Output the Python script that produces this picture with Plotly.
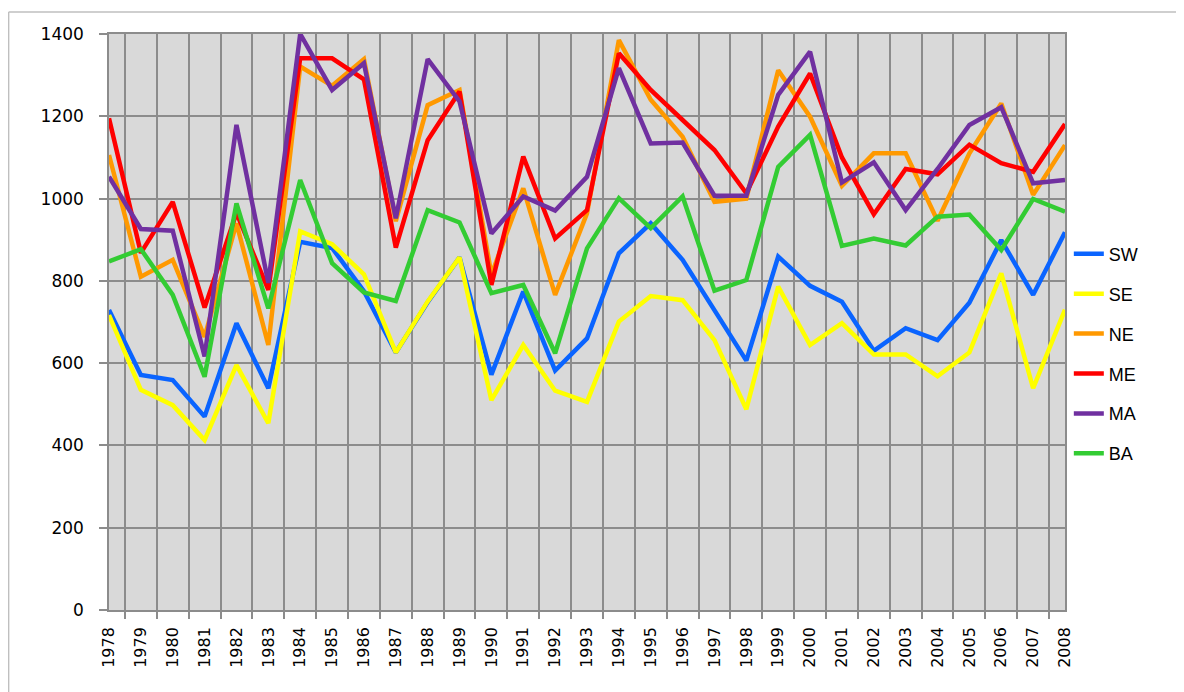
import plotly.graph_objects as go

years = [str(y) for y in range(1978, 2009)]

SW = [729, 571, 559, 470, 697, 539, 895, 880, 775, 626, 748, 857, 572, 774, 582, 660,
      867, 940, 851, 729, 606, 859, 788, 749, 630, 685, 656, 747, 899, 766, 918]
SE = [717, 535, 498, 413, 595, 454, 920, 889, 816, 626, 750, 857, 510, 644, 533, 506,
      701, 763, 753, 656, 488, 786, 644, 697, 621, 621, 568, 626, 818, 539, 730]
NE = [1106, 810, 851, 664, 940, 644, 1321, 1274, 1339, 945, 1227, 1264, 815, 1025, 766, 964,
      1385, 1240, 1150, 992, 1000, 1312, 1199, 1031, 1110, 1110, 946, 1110, 1231, 1009, 1130]
ME = [1195, 868, 992, 735, 965, 778, 1341, 1341, 1290, 881, 1142, 1260, 790, 1102, 903, 972,
      1353, 1264, 1191, 1118, 1013, 1175, 1304, 1100, 962, 1072, 1059, 1131, 1086, 1065, 1181]
MA = [1053, 926, 922, 616, 1179, 795, 1400, 1264, 1329, 952, 1339, 1236, 915, 1005, 971, 1053,
      1317, 1134, 1136, 1007, 1007, 1252, 1357, 1039, 1088, 972, 1072, 1179, 1222, 1037, 1045]
BA = [847, 877, 766, 567, 988, 733, 1045, 843, 772, 751, 972, 942, 770, 790, 624, 879,
      1001, 928, 1005, 776, 802, 1077, 1155, 885, 903, 886, 956, 961, 875, 999, 968]

series = [("SW", SW, "#0a64ff"), ("SE", SE, "#ffff00"), ("NE", NE, "#ff9900"),
          ("ME", ME, "#ff0000"), ("MA", MA, "#7030a0"), ("BA", BA, "#33cc33")]

fig = go.Figure()
for name, vals, col in series:
    fig.add_trace(go.Scatter(x=years, y=vals, name=name, mode="lines",
                             line=dict(color=col, width=4.5), legendgroup=name))

grid = "#8c8c8c"
tickfam = "DejaVu Sans, Verdana, sans-serif"
fig.update_layout(
    width=1184, height=692,
    margin=dict(l=101, r=127, t=26, b=90),
    paper_bgcolor="white", plot_bgcolor="#d9d9d9",
    font=dict(family="Liberation Sans, Arial, sans-serif", color="#000000"),
    legend=dict(x=1.004, y=0.65, xanchor="left", yanchor="top",
                font=dict(size=18), tracegroupgap=13.5, bgcolor="rgba(0,0,0,0)"),
    xaxis=dict(type="category", tickson="boundaries", showgrid=True, gridcolor=grid, gridwidth=1.5,
               ticks="outside", ticklen=7, tickcolor=grid, tickwidth=1.5,
               tickangle=-90, tickfont=dict(size=16, family=tickfam), ticklabelstandoff=9,
               showline=True, linecolor=grid, linewidth=1.5, mirror=True),
    yaxis=dict(range=[0, 1400], dtick=200, showgrid=True, gridcolor=grid, gridwidth=1.5,
               ticks="outside", ticklen=8, tickcolor=grid, tickwidth=1.5,
               tickfont=dict(size=17, family=tickfam), ticklabelstandoff=12, zeroline=False,
               showline=True, linecolor=grid, linewidth=1.5, mirror=True),
    shapes=[
        dict(type="line", xref="paper", yref="paper", x0=-0.105, x1=-0.105, y0=-0.2, y1=1.038,
             line=dict(color="#bfbfbf", width=1.5)),
        dict(type="line", xref="paper", yref="paper", x0=-0.105, x1=1.2, y0=1.038, y1=1.038,
             line=dict(color="#bfbfbf", width=1.5)),
    ],
)

fig.write_html("out.html")
